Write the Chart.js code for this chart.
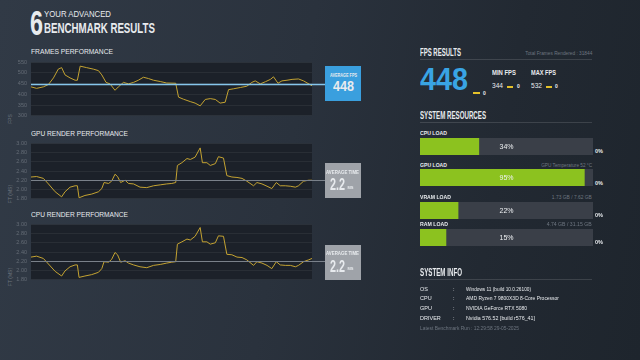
<!DOCTYPE html>
<html>
<head>
<meta charset="utf-8">
<script src="https://cdn.jsdelivr.net/npm/chart.js@4"></script>
<style>
  html, body { margin: 0; padding: 0; }
  body {
    width: 640px; height: 360px; overflow: hidden; position: relative;
    background: linear-gradient(100deg, #313a46 0%, #2a323d 45%, #222932 75%, #1e252d 100%);
    font-family: 'Liberation Sans', Arial, sans-serif; color: #e8ebee;
  }
  canvas { position: absolute; }
  .t { position: absolute; white-space: nowrap; line-height: 1; transform-origin: left top; }
  .r { transform-origin: right top; }
  .b { font-weight: bold; }
  .g { color: #6e7680; }
  .rule { position: absolute; height: 1px; background: rgba(255,255,255,0.13); }
  .box { position: absolute; }
  .dash { position: absolute; height: 2px; background: #e4c12a; }
  .rot { position: absolute; white-space: nowrap; line-height: 1; font-size: 5px; color: #6e7680;
         transform: translate(-50%, -50%) rotate(-90deg); }
</style>
</head>
<body>

<!-- header -->
<div class="t b" style="left:30px;top:4.5px;font-size:35px" data-w="13">6</div>
<div class="t" style="left:44px;top:10px;font-size:8.5px" data-w="67">YOUR ADVANCED</div>
<div class="t b" style="left:44px;top:20px;font-size:15.5px" data-w="111">BENCHMARK RESULTS</div>

<!-- chart titles -->
<div class="t" style="left:31px;top:48px;font-size:7px" data-w="82">FRAMES PERFORMANCE</div>
<div class="t" style="left:31px;top:130px;font-size:7px" data-w="97">GPU RENDER PERFORMANCE</div>
<div class="t" style="left:31px;top:211px;font-size:7px" data-w="97">CPU RENDER PERFORMANCE</div>
<div class="rot" style="left:10px;top:119px">FPS</div>
<div class="rot" style="left:10px;top:194px">FT (MS)</div>
<div class="rot" style="left:10px;top:277px">FT (MS)</div>

<canvas id="fpsChart" width="326" height="68" style="left:0;top:55px"></canvas>
<canvas id="gpuChart" width="326" height="70" style="left:0;top:136px"></canvas>
<canvas id="cpuChart" width="326" height="70" style="left:0;top:217px"></canvas>

<!-- average boxes -->
<div class="box" style="left:325px;top:66px;width:36px;height:35px;background:#3a9fde"></div>
<div class="t b" style="left:330px;top:72px;font-size:6px" data-w="27">AVERAGE FPS</div>
<div class="t b" style="left:332.5px;top:79px;font-size:14px" data-w="21">448</div>

<div class="box" style="left:325px;top:163px;width:36px;height:35px;background:#9fa3a9"></div>
<div class="t b" style="left:326px;top:168.5px;font-size:6px" data-w="33">AVERAGE TIME</div>
<div class="t b" style="left:330px;top:176px;font-size:16.5px" data-w="15">2.2</div>
<div class="t b" style="left:347.5px;top:185.5px;font-size:4px">MS</div>

<div class="box" style="left:325px;top:245px;width:36px;height:35px;background:#9fa3a9"></div>
<div class="t b" style="left:326px;top:250px;font-size:6px" data-w="33">AVERAGE TIME</div>
<div class="t b" style="left:330px;top:257.5px;font-size:16.5px" data-w="15">2.2</div>
<div class="t b" style="left:347.5px;top:267px;font-size:4px">MS</div>

<!-- FPS results -->
<div class="t b" style="left:420px;top:47.7px;font-size:10px" data-w="41">FPS RESULTS</div>
<div class="t r g" style="right:48px;top:50.5px;font-size:5px" data-w="67">Total Frames Rendered : 31844</div>
<div class="rule" style="left:420px;top:59px;width:172px"></div>
<div class="t b" style="left:420px;top:64px;font-size:31px;color:#39a4e4" data-w="48">448</div>
<div class="dash" style="left:473px;top:92px;width:7px"></div>
<div class="t b" style="left:483px;top:90.5px;font-size:5px">0</div>
<div class="t b" style="left:492px;top:69px;font-size:8px" data-w="24">MIN FPS</div>
<div class="t" style="left:492px;top:82px;font-size:7px" data-w="11">344</div>
<div class="dash" style="left:507px;top:85.5px;width:6px"></div>
<div class="t b" style="left:517px;top:84px;font-size:5px">0</div>
<div class="t b" style="left:531px;top:69px;font-size:8px" data-w="25">MAX FPS</div>
<div class="t" style="left:531px;top:82px;font-size:7px" data-w="11">532</div>
<div class="dash" style="left:546px;top:85.5px;width:6px"></div>
<div class="t b" style="left:555px;top:84px;font-size:5px">0</div>

<!-- System resources -->
<div class="t b" style="left:420px;top:110.7px;font-size:10px" data-w="66">SYSTEM RESOURCES</div>
<div class="rule" style="left:420px;top:121.5px;width:172px"></div>

<div class="t b" style="left:420px;top:131.3px;font-size:5.5px" data-w="27">CPU LOAD</div>
<canvas id="cpuLoad" width="173" height="17" style="left:420px;top:138px"></canvas>
<div class="t b" style="left:595px;top:148.6px;font-size:5.5px">0%</div>

<div class="t b" style="left:420px;top:162.6px;font-size:5.5px" data-w="27">GPU LOAD</div>
<div class="t r g" style="right:48px;top:162.6px;font-size:5px" data-w="51">GPU Temperature 52 °C</div>
<canvas id="gpuLoad" width="173" height="17" style="left:420px;top:169px"></canvas>
<div class="t b" style="left:595px;top:181px;font-size:5.5px">0%</div>

<div class="t b" style="left:420px;top:195px;font-size:5.5px" data-w="31">VRAM LOAD</div>
<div class="t r g" style="right:48px;top:195px;font-size:5px" data-w="40">1.73 GB / 7.62 GB</div>
<canvas id="vramLoad" width="173" height="17" style="left:420px;top:202px"></canvas>
<div class="t b" style="left:595px;top:213px;font-size:5.5px">0%</div>

<div class="t b" style="left:420px;top:222.3px;font-size:5.5px" data-w="28">RAM LOAD</div>
<div class="t r g" style="right:48px;top:222.3px;font-size:5px" data-w="45">4.74 GB / 31.15 GB</div>
<canvas id="ramLoad" width="173" height="17" style="left:420px;top:229px"></canvas>
<div class="t b" style="left:595px;top:240.3px;font-size:5.5px">0%</div>

<!-- System info -->
<div class="t b" style="left:420px;top:266.6px;font-size:11px" data-w="42">SYSTEM INFO</div>
<div class="rule" style="left:420px;top:279px;width:172px"></div>

<div class="t" style="left:420px;top:286.6px;font-size:5.5px">OS</div>
<div class="t" style="left:453px;top:286.6px;font-size:5.5px">:</div>
<div class="t" style="left:466px;top:286.6px;font-size:5.5px" data-w="65">Windows 11 (build 10.0.26100)</div>
<div class="t" style="left:420px;top:296.3px;font-size:5.5px">CPU</div>
<div class="t" style="left:453px;top:296.3px;font-size:5.5px">:</div>
<div class="t" style="left:466px;top:296.3px;font-size:5.5px" data-w="93">AMD Ryzen 7 9800X3D 8-Core Processor</div>
<div class="t" style="left:420px;top:306.3px;font-size:5.5px">GPU</div>
<div class="t" style="left:453px;top:306.3px;font-size:5.5px">:</div>
<div class="t" style="left:466px;top:306.3px;font-size:5.5px" data-w="61">NVIDIA GeForce RTX 5080</div>
<div class="t" style="left:420px;top:315.6px;font-size:5.5px">DRIVER</div>
<div class="t" style="left:453px;top:315.6px;font-size:5.5px">:</div>
<div class="t" style="left:466px;top:315.6px;font-size:5.5px" data-w="69">Nvidia 576.52 [build r576_41]</div>
<div class="t g" style="left:420px;top:326px;font-size:5.5px" data-w="99">Latest Benchmark Run : 12:29:58 29-05-2025</div>

<script>
// frames performance (time in % of run, fps)
const fpsTime = [0, 2, 4.4, 6.2, 8, 9.7, 10.9, 12.1, 13.9, 15.7, 16.5, 17.5, 19.8, 22.2, 24, 25.2, 26.7, 28.1, 29.9, 31.1,
  32.9, 34.7, 36.5, 38.2, 40, 41.8, 43.6, 46, 48.3, 51.5, 52.5, 54.3, 56.7, 58.4, 60.2, 62, 63.8, 65.6, 67.3, 69.1,
  70.3, 72.1, 74.5, 76.8, 78.6, 79.8, 81.6, 83.4, 85.2, 86.3, 87.9, 89.3, 91.1, 92.9, 95.2, 97, 100];
const fpsValues = [435, 428, 435, 446, 477, 518, 525, 491, 477, 466, 466, 532, 525, 518, 511, 491, 456, 449, 419, 435,
  456, 449, 456, 466, 480, 474, 466, 460, 453, 452, 387, 377, 366, 359, 346, 376, 380, 376, 359, 363,
  422, 426, 432, 438, 456, 463, 449, 459, 470, 482, 452, 463, 466, 470, 472, 463, 440];

// render performance (frame time in ms)
const frameTime = [0, 2, 4.4, 6.2, 8.6, 10.9, 12.1, 13.9, 15.7, 16.5, 17.1, 19.2, 21.6, 24, 25.2, 26, 27.6, 28.7, 29.9, 30.8,
  31.9, 33.5, 34.7, 36.5, 38.8, 41.2, 43.6, 46, 48.3, 50.1, 51.5, 52.1, 53.7, 55.5, 56.7, 58.4, 60.2, 61, 62.6, 63.8,
  65.6, 66.7, 68.5, 69.7, 71.5, 73.3, 75.1, 76.8, 79.2, 80.4, 82.2, 84, 85.7, 87.3, 88.7, 90.5, 92.3, 94.1, 95.2, 97,
  98.8, 100];
const gpuFrameTimes = [2.27, 2.28, 2.24, 2.12, 1.95, 1.84, 1.95, 2.05, 2.08, 2.08, 1.82, 1.87, 1.90, 1.95, 2.02, 2.15, 2.13, 2.18, 2.33, 2.28,
  2.15, 2.20, 2.13, 2.12, 2.05, 2.04, 2.08, 2.10, 2.12, 2.13, 2.15, 2.52, 2.58, 2.67, 2.65, 2.70, 2.90, 2.58, 2.58, 2.52,
  2.56, 2.71, 2.68, 2.30, 2.27, 2.26, 2.24, 2.18, 2.08, 2.15, 2.12, 2.07, 2.02, 2.15, 2.08, 2.08, 2.07, 2.05, 2.08, 2.18,
  2.20, 2.20];
const cpuFrameTimes = [2.29, 2.31, 2.26, 2.14, 1.98, 1.88, 1.99, 2.08, 2.12, 2.12, 1.85, 1.88, 1.91, 1.96, 2.04, 2.19, 2.18, 2.24, 2.39, 2.34,
  2.18, 2.21, 2.16, 2.12, 2.08, 2.06, 2.11, 2.13, 2.16, 2.18, 2.19, 2.57, 2.62, 2.68, 2.66, 2.74, 2.93, 2.62, 2.62, 2.57,
  2.60, 2.75, 2.74, 2.35, 2.34, 2.29, 2.28, 2.23, 2.11, 2.19, 2.16, 2.11, 2.04, 2.19, 2.12, 2.11, 2.11, 2.08, 2.11, 2.19,
  2.23, 2.26];

const averageFps = 448;
const averageGpuTime = 2.2;
const averageCpuTime = 2.2;

// system resources
const resourceIds = ['cpuLoad', 'gpuLoad', 'vramLoad', 'ramLoad'];
const resourceLoads = [34, 95, 22, 15];

// fit condensed text to the widths measured on the reference
document.querySelectorAll('[data-w]').forEach(el => {
  const w = el.getBoundingClientRect().width;
  const target = parseFloat(el.getAttribute('data-w'));
  if (w > 0) el.style.transform = 'scaleX(' + (target / w) + ')';
});

const plotBackground = {
  id: 'plotBackground',
  beforeDraw(chart, args, opts) {
    const { ctx, chartArea: a } = chart;
    ctx.save();
    ctx.fillStyle = opts.color;
    ctx.fillRect(a.left, a.top, a.right - a.left, a.bottom - a.top);
    ctx.restore();
  }
};

const averageLine = {
  id: 'averageLine',
  afterDatasetsDraw(chart, args, opts) {
    const { ctx, chartArea } = chart;
    const y = Math.round(chart.scales.y.getPixelForValue(opts.value)) + 0.5;
    ctx.save();
    ctx.strokeStyle = opts.color;
    ctx.lineWidth = opts.width;
    ctx.beginPath();
    ctx.moveTo(chartArea.left, y);
    ctx.lineTo(chart.width, y);
    ctx.stroke();
    ctx.restore();
  }
};

function drawPerformance(id, times, values, yMin, yMax, step, digits, avg, avgColor, avgWidth) {
  new Chart(document.getElementById(id), {
    type: 'line',
    data: {
      datasets: [{
        data: times.map((t, i) => ({ x: t, y: values[i] })),
        borderColor: '#c4a332',
        borderWidth: 1,
        pointRadius: 0,
        tension: 0
      }]
    },
    options: {
      responsive: false,
      animation: false,
      layout: { padding: { top: 4.5, bottom: 5, left: 0, right: 14 } },
      plugins: {
        legend: { display: false },
        tooltip: { enabled: false },
        plotBackground: { color: '#1c2129' },
        averageLine: { value: avg, color: avgColor, width: avgWidth }
      },
      scales: {
        x: { type: 'linear', min: 0, max: 100, display: false },
        y: {
          min: yMin,
          max: yMax,
          ticks: {
            stepSize: step,
            color: '#646c76',
            padding: 4,
            font: { size: 5.5, family: 'Liberation Sans' },
            callback: v => v.toFixed(digits)
          },
          grid: { color: 'rgba(255,255,255,0.06)', drawTicks: false },
          border: { display: false },
          afterFit(scale) { scale.width = 31; }
        }
      }
    },
    plugins: [plotBackground, averageLine]
  });
}

drawPerformance('fpsChart', fpsTime, fpsValues, 300, 550, 50, 0, averageFps, '#86c6ec', 1.5);
drawPerformance('gpuChart', frameTime, gpuFrameTimes, 1.8, 3.0, 0.2, 2, averageGpuTime, '#7a818a', 1);
drawPerformance('cpuChart', frameTime, cpuFrameTimes, 1.8, 3.0, 0.2, 2, averageCpuTime, '#7a818a', 1);

const loadLabel = {
  id: 'loadLabel',
  afterDatasetsDraw(chart, args, opts) {
    const { ctx, chartArea: a } = chart;
    ctx.save();
    ctx.fillStyle = '#eef0f2';
    ctx.font = '7px "Liberation Sans"';
    ctx.textAlign = 'center';
    ctx.textBaseline = 'middle';
    ctx.fillText(opts.text, (a.left + a.right) / 2, (a.top + a.bottom) / 2 + 0.5);
    ctx.restore();
  }
};

resourceIds.forEach((id, i) => {
  const load = resourceLoads[i];
  new Chart(document.getElementById(id), {
    type: 'bar',
    data: {
      labels: [''],
      datasets: [
        { data: [load], backgroundColor: '#8cc21f' },
        { data: [100 - load], backgroundColor: '#3a3f48' }
      ]
    },
    options: {
      indexAxis: 'y',
      responsive: false,
      animation: false,
      layout: { padding: 0 },
      datasets: { bar: { barPercentage: 1, categoryPercentage: 1, borderWidth: 0 } },
      scales: {
        x: { stacked: true, min: 0, max: 100, display: false },
        y: { stacked: true, display: false }
      },
      plugins: {
        legend: { display: false },
        tooltip: { enabled: false },
        loadLabel: { text: load + '%' }
      }
    },
    plugins: [loadLabel]
  });
});
</script>
</body>
</html>
